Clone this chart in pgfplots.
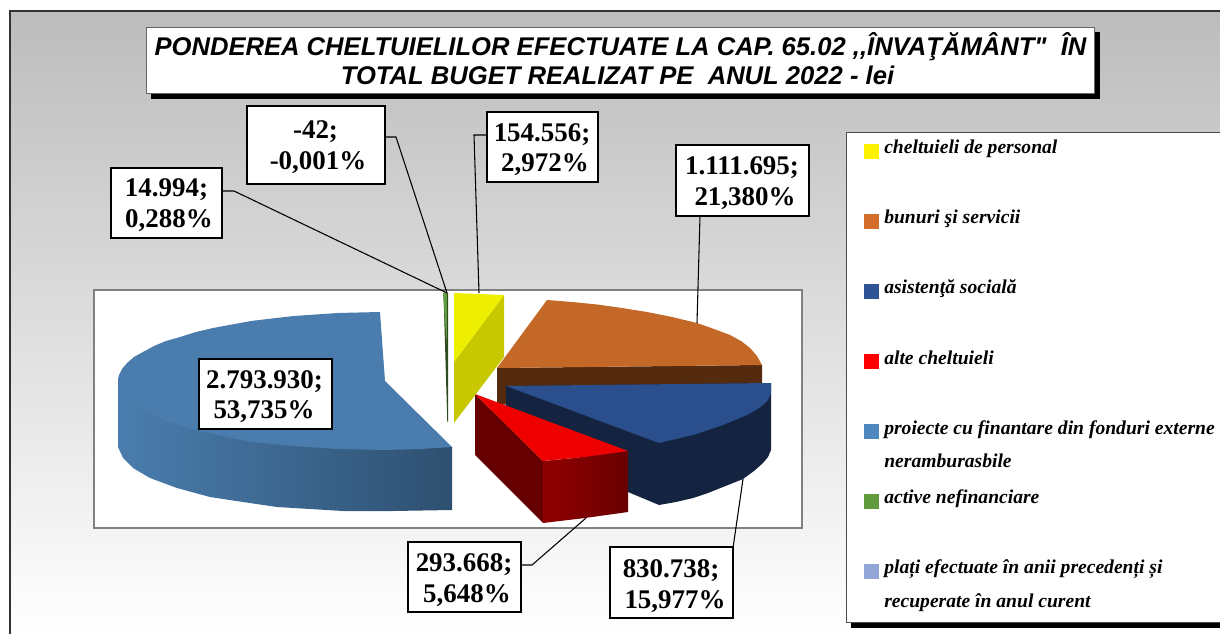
\documentclass[border=0pt]{standalone}
\usepackage{pgfplots}
\pgfplotsset{compat=1.18}
\usepackage{fontspec}
\setmainfont{Liberation Serif}
\newfontfamily\titlefont{Liberation Sans}
\definecolor{bluetop}{HTML}{4A7DAE}
\definecolor{bluedark}{HTML}{2E5070}
\definecolor{orangetop}{HTML}{C46827}
\definecolor{orangeside}{HTML}{552B10}
\definecolor{navytop}{HTML}{2B4F8C}
\definecolor{navyside}{HTML}{14233F}
\definecolor{redtop}{HTML}{EE0000}
\definecolor{redside}{HTML}{660000}
\definecolor{redfrontA}{HTML}{900000}
\definecolor{redfrontB}{HTML}{6A0000}
\definecolor{yellowtop}{HTML}{EEEE00}
\definecolor{yellowside}{HTML}{C8C800}
\definecolor{greentop}{HTML}{5F9A3F}
\definecolor{greenside}{HTML}{2F4A20}
\definecolor{bgtop}{HTML}{BCBCBC}
\newcommand{\lab}[3]{\node[anchor=base,inner sep=0pt,font=\fontsize{20.2}{20.2}\selectfont\bfseries] at (axis cs:#1,#2) {#3};}
\newcommand{\leg}[2]{\node[anchor=base west,inner sep=0pt,font=\fontsize{14.7}{14.7}\selectfont\bfseries\itshape] at (axis cs:884,#1) {#2};}
\begin{document}
\begin{tikzpicture}
\begin{axis}[hide axis,scale only axis,width=915pt,height=475.5pt,
  xmin=0,xmax=1220,ymin=0,ymax=634,y dir=reverse,no markers,clip=true]
% page and background
\addplot[fill=white,draw=none] coordinates {(0,0)(1220,0)(1220,634)(0,634)} -- cycle;
\addplot[draw=none,top color=bgtop,bottom color=white] coordinates {(10,11)(1220,11)(1220,634)(10,634)} -- cycle;
\addplot[draw=black!80,line width=0.9pt] coordinates {(10,640)(10,11)(1220,11)};
% title
\addplot[fill=black,draw=none] coordinates {(151,32)(1100,32)(1100,99)(151,99)} -- cycle;
\addplot[fill=white,draw=black!60,line width=0.7pt] coordinates {(146,27)(1094,27)(1094,93)(146,93)} -- cycle;
\node[anchor=base,inner sep=0pt,font=\titlefont\fontsize{19.2}{19.2}\selectfont\bfseries\itshape] at (axis cs:620.5,56) {PONDEREA CHELTUIELILOR EFECTUATE LA CAP. 65.02 ,,ÎNVAŢĂMÂNT"\ \ ÎN};
\node[anchor=base,inner sep=0pt,font=\titlefont\fontsize{19.2}{19.2}\selectfont\bfseries\itshape] at (axis cs:617.5,85) {TOTAL BUGET REALIZAT PE\ \ ANUL 2022 - lei};
% plot area
\addplot[fill=white,draw=black!50,line width=2.2pt] coordinates {(94,290)(802,290)(802,528)(94,528)} -- cycle;
% orange
\addplot[fill=orangeside,draw=none] coordinates {(497,368)(762,365)(762,392)(497,405)} -- cycle;
\addplot[fill=orangetop,draw=none] coordinates {(547,300)(572,302)(597,304.5)(622,308)(647,312)(672,317)(697,323)(714,329)(730,335)(741,341)(750,348)(757,356)(762,365)(497,368)} -- cycle;
% navy
\addplot[fill=navyside,draw=none] coordinates {(506,386)(771,383)(771,450)(768,457)(763,463)(754,471)(743,479)(733,483)(723,487)(708,493)(693,498)(676,502)(659,505)(628,492)(506,406)} -- cycle;
\addplot[fill=navytop,draw=none] coordinates {(506,386)(771,383)(771,393)(768,400)(763,405)(756,410)(747,415)(735,420)(723,425)(708,430)(693,435)(676,439)(659,443)} -- cycle;
% red
\addplot[fill=redside,draw=none] coordinates {(475,394)(543,461)(543,523)(475,455)} -- cycle;
\addplot[left color=redfrontA,right color=redfrontB,draw=none] coordinates {(543,461)(585,457)(628,451)(628,512)(585,518)(543,523)} -- cycle;
\addplot[fill=redtop,draw=none] coordinates {(475,394)(628,451)(585,457)(543,461)} -- cycle;
% yellow
\addplot[fill=yellowside,draw=none] coordinates {(504,295)(504,357)(454,423)(454,362)} -- cycle;
\addplot[fill=yellowtop,draw=none] coordinates {(454,293)(504,295)(454,362)} -- cycle;
% green
\addplot[fill=greenside,draw=none] coordinates {(443.5,293)(448,293)(448,422)(447.3,422)} -- cycle;
\addplot[fill=greentop,draw=none] coordinates {(443,293)(447,293)(446.7,345)} -- cycle;
% blue
\addplot[left color=bluetop,middle color=bluetop,right color=bluedark,draw=none] coordinates {(118,379)(118,447)(123,458)(133,468)(150,478)(177,488)(210,497)(243,502)(277,507)(310,509)(343,511)(393,511)(452,510)(452,447)} -- cycle;
\addplot[fill=bluetop,draw=none] coordinates {(380,312)(338,313)(294,316)(272,318.5)(251,321)(232,324.5)(213,328)(196,332)(180,337)(166,341)(154,346)(143,352)(134,357)(127,363)(122,369)(119,375)(118,379)(119,387)(122,393)(127,399)(134,405)(143,410)(154,415)(166,421)(180,425)(196,430)(213,434)(232,438)(251,442)(272,444)(294,446)(338,449)(385,450)(420,449)(452,447)(385,381)} -- cycle;
% leaders
\addplot[black,line width=0.8pt] coordinates {(222,191)(234,191)(447,293)};
\addplot[black,line width=0.8pt] coordinates {(385,137)(396,137)(447,293)};
\addplot[black,line width=0.8pt] coordinates {(487,135)(474,135)(479,293)};
\addplot[black,line width=0.8pt] coordinates {(700,216)(697,323)};
\addplot[black,line width=0.8pt] coordinates {(521,565)(532,565)(586,518)};
\addplot[black,line width=0.8pt] coordinates {(733,548)(743,479)};
% label boxes
\addplot[fill=white,draw=black,line width=1.1pt] coordinates {(111,168)(222,168)(222,238)(111,238)} -- cycle;
\addplot[fill=white,draw=black,line width=1.1pt] coordinates {(247,106)(385,106)(385,184)(247,184)} -- cycle;
\addplot[fill=white,draw=black,line width=1.1pt] coordinates {(487,112)(598,112)(598,182)(487,182)} -- cycle;
\addplot[fill=white,draw=black,line width=1.1pt] coordinates {(676,145)(809,145)(809,216)(676,216)} -- cycle;
\addplot[fill=white,draw=black,line width=1.1pt] coordinates {(199,359)(332,359)(332,429)(199,429)} -- cycle;
\addplot[fill=white,draw=black,line width=1.1pt] coordinates {(408,542)(521,542)(521,612)(408,612)} -- cycle;
\addplot[fill=white,draw=black,line width=1.1pt] coordinates {(610,547)(733,547)(733,618)(610,618)} -- cycle;
\lab{166.5}{197}{14.994;}
\lab{169}{228}{0,288\%}
\lab{315.5}{139}{-42;}
\lab{318}{170}{-0,001\%}
\lab{542}{142}{154.556;}
\lab{545}{172}{2,972\%}
\lab{742}{175}{1.111.695;}
\lab{745}{206}{21,380\%}
\lab{264.5}{388}{2.793.930;}
\lab{264}{418}{53,735\%}
\lab{464}{571}{293.668;}
\lab{467}{602}{5,648\%}
\lab{671}{577}{830.738;}
\lab{675}{608}{15,977\%}
% legend
\addplot[fill=black,draw=none] coordinates {(851,137)(1220,137)(1220,628)(851,628)} -- cycle;
\addplot[fill=white,draw=black!70,line width=0.7pt] coordinates {(846,132)(1225,132)(1225,622)(846,622)} -- cycle;
\addplot[fill=yellow,draw=none] coordinates {(864,144)(879,144)(879,159)(864,159)} -- cycle;
\addplot[fill={rgb,255:red,211;green,109;blue,44},draw=none] coordinates {(864,214)(879,214)(879,229)(864,229)} -- cycle;
\addplot[fill={rgb,255:red,46;green,84;blue,150},draw=none] coordinates {(864,284)(879,284)(879,299)(864,299)} -- cycle;
\addplot[fill=red,draw=none] coordinates {(864,354)(879,354)(879,369)(864,369)} -- cycle;
\addplot[fill={rgb,255:red,79;green,136;blue,190},draw=none] coordinates {(864,424)(879,424)(879,439)(864,439)} -- cycle;
\addplot[fill={rgb,255:red,98;green,155;blue,62},draw=none] coordinates {(864,494)(879,494)(879,509)(864,509)} -- cycle;
\addplot[fill={rgb,255:red,145;green,165;blue,214},draw=none] coordinates {(864,564)(879,564)(879,579)(864,579)} -- cycle;
\leg{154}{cheltuieli de personal}
\leg{224}{bunuri şi servicii}
\leg{294}{asistenţă socială}
\leg{364}{alte cheltuieli}
\leg{434}{proiecte cu finantare din fonduri externe}
\leg{467}{neramburasbile}
\leg{503.5}{active nefinanciare}
\leg{573.5}{plați efectuate în anii precedenți și}
\leg{607}{recuperate în anul curent}
\end{axis}
\end{tikzpicture}
\end{document}
